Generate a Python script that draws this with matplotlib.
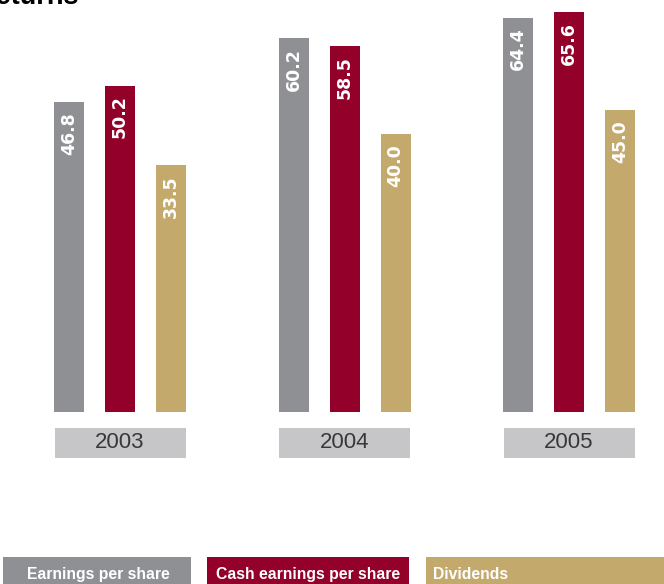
import matplotlib
matplotlib.use("Agg")
import matplotlib.pyplot as plt
from matplotlib.patches import Rectangle
import numpy as np

# Figures per year (pence per share)
years = ["2003", "2004", "2005"]
earnings = [46.8, 60.2, 64.4]
cash_earnings = [50.2, 58.5, 65.6]
dividends = [33.5, 40.0, 45.0]

series_labels = ["Earnings per share", "Cash earnings per share", "Dividends"]
series_colors = ["#8f9094", "#93002a", "#c3aa6c"]
title = "Returns"

W, H = 664, 584
fig = plt.figure(figsize=(W / 100, H / 100), dpi=100)
fig.patch.set_facecolor("white")
ax = fig.add_axes([0, 0, 1, 1])
ax.set_axis_off()

# scale: one group per unit on x, bars rise from a common floor
px_per_group = 224.5
px_per_unit = 4.78
floor = -18.0
floor_px = 172.5          # floor height above the figure bottom, pixels
first_center_px = 120.0

x0 = -first_center_px / px_per_group
ax.set_xlim(x0, x0 + W / px_per_group)
y0 = floor - floor_px / px_per_unit
ax.set_ylim(y0, y0 + H / px_per_unit)

offset = 51 / px_per_group
width = 30 / px_per_group
x = np.arange(len(years))

for k, vals in enumerate([earnings, cash_earnings, dividends]):
    xs = x + (k - 1) * offset
    heights = np.array(vals) - floor
    ax.bar(xs, heights, width=width, bottom=floor, color=series_colors[k],
           edgecolor="none", zorder=2)
    for xi, v in zip(xs, vals):
        ax.text(xi, v - 10 / px_per_unit, f"{v:.1f}", rotation=90,
                ha="center", va="top", color="white", fontsize=12.5,
                fontweight="bold", family=["DejaVu Sans"], zorder=3)

# year plates under each group
box_half = 65.5 / px_per_group
box_top = floor - 16.5 / px_per_unit
box_bot = floor - 46.5 / px_per_unit
for xi, yr in zip(x, years):
    ax.add_patch(Rectangle((xi - box_half, box_bot), 2 * box_half,
                           box_top - box_bot, facecolor="#c6c6c9",
                           edgecolor="none", zorder=2))
    ax.text(xi, (box_top + box_bot) / 2, yr, ha="center", va="center",
            fontsize=16, color="#38383b", family=["Liberation Sans", "DejaVu Sans"],
            zorder=3)

# title, mostly above the top edge
fig.text(79 / W, 1 - 4.5 / H, title, ha="right", va="baseline", fontsize=19.5,
         fontweight="bold", color="black", family=["Liberation Sans", "DejaVu Sans"])

# legend strip along the bottom
legend_boxes = [(3, 191), (207, 409), (426, 700)]
legend_text_x = [98, 308, 433]
legend_ha = ["center", "center", "left"]
for (l, r), tx, ha, lab, col in zip(legend_boxes, legend_text_x, legend_ha,
                                     series_labels, series_colors):
    fig.patches.append(Rectangle((l / W, 0), (r - l) / W, (H - 557) / H,
                                 transform=fig.transFigure, facecolor=col,
                                 edgecolor="none"))
    fig.text(tx / W, 1 - 574.5 / H, lab, ha=ha, va="center", fontsize=11.3,
             fontweight="bold", color="white",
             family=["Liberation Sans", "DejaVu Sans"])

fig.savefig("out.png", dpi=100, facecolor="white")
